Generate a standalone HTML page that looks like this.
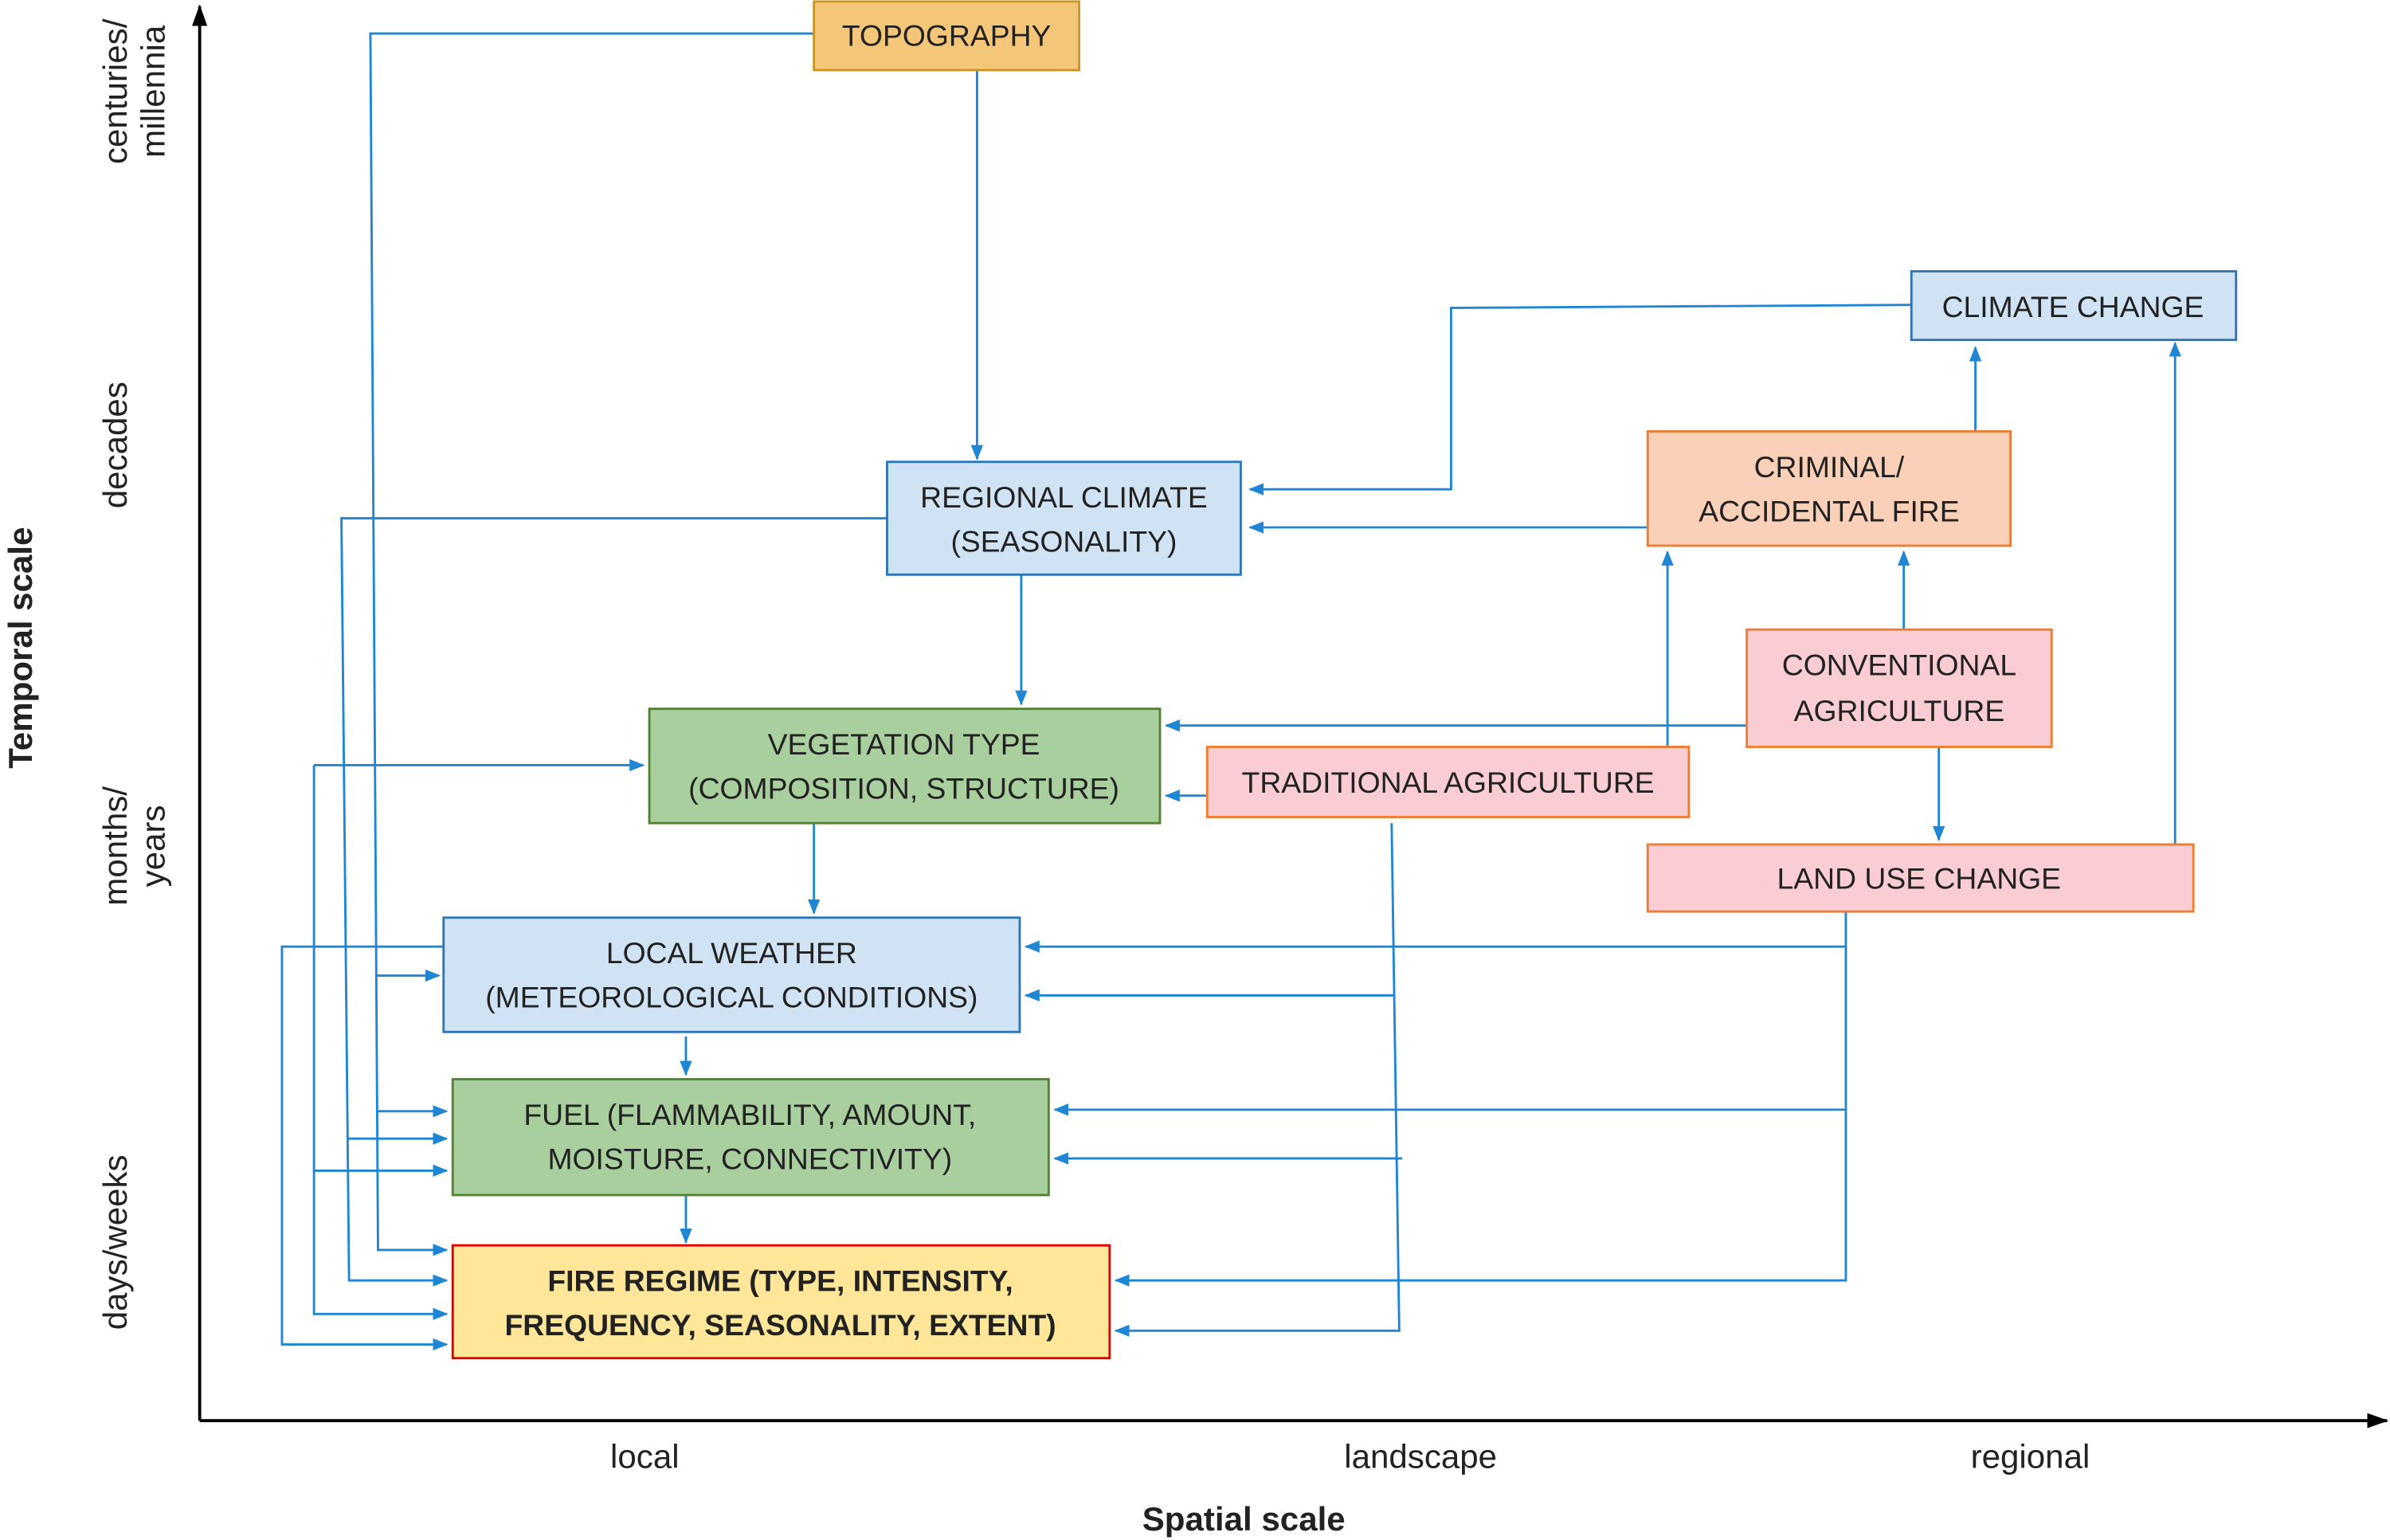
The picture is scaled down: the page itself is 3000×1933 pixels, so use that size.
<!DOCTYPE html>
<html><head><meta charset="utf-8"><style>
html,body{margin:0;padding:0;background:#fff;}
svg{display:block;}
text{font-family:"Liberation Sans",sans-serif;font-size:19.5px;fill:#222;}
.b{font-weight:bold;}
</style></head><body>
<svg width="3000" height="1933" viewBox="0 0 1568 1010.3" preserveAspectRatio="none" xmlns="http://www.w3.org/2000/svg">
<defs>
<marker id="a" markerWidth="10" markerHeight="10" refX="9" refY="5" orient="auto" markerUnits="userSpaceOnUse"><path d="M0,1 L10,5 L0,9 z" fill="#1f86d4"/></marker>
<marker id="k" markerWidth="14" markerHeight="12" refX="13" refY="6" orient="auto" markerUnits="userSpaceOnUse"><path d="M0,1 L14,6 L0,11 z" fill="#000"/></marker>
</defs>
<!-- axes -->
<line x1="131" y1="932" x2="131" y2="4" stroke="#000" stroke-width="2" marker-end="url(#k)"/>
<line x1="131" y1="932" x2="1566" y2="932" stroke="#000" stroke-width="2" marker-end="url(#k)"/>
<g fill="none" stroke="#1f86d4" stroke-width="1.5">
<!-- topography -->
<polyline points="534,22 243,22 248,820 293,820" marker-end="url(#a)"/>
<line x1="247" y1="640" x2="288" y2="640" marker-end="url(#a)"/>
<line x1="248" y1="729" x2="293" y2="729" marker-end="url(#a)"/>
<line x1="641" y1="46" x2="641" y2="301" marker-end="url(#a)"/>
<!-- climate change -->
<polyline points="1254,200 952,202 952,321 820,321" marker-end="url(#a)"/>
<line x1="1081" y1="346" x2="820" y2="346" marker-end="url(#a)"/>
<line x1="1296" y1="283" x2="1296" y2="228" marker-end="url(#a)"/>
<line x1="1427" y1="554" x2="1427" y2="225" marker-end="url(#a)"/>
<line x1="1249" y1="413" x2="1249" y2="362" marker-end="url(#a)"/>
<line x1="1146" y1="476" x2="765" y2="476" marker-end="url(#a)"/>
<line x1="1272" y1="490" x2="1272" y2="551" marker-end="url(#a)"/>
<line x1="1094" y1="490" x2="1094" y2="362" marker-end="url(#a)"/>
<line x1="792" y1="522" x2="765" y2="522" marker-end="url(#a)"/>
<!-- traditional down -->
<polyline points="913,540 918,873 732,873" marker-end="url(#a)"/>
<line x1="915" y1="653" x2="673" y2="653" marker-end="url(#a)"/>
<line x1="920" y1="760" x2="692" y2="760" marker-end="url(#a)"/>
<!-- land use down -->
<polyline points="1211,598 1211,840 732,840" marker-end="url(#a)"/>
<line x1="1211" y1="621" x2="673" y2="621" marker-end="url(#a)"/>
<line x1="1211" y1="728" x2="692" y2="728" marker-end="url(#a)"/>
<!-- regional climate -->
<polyline points="582,340 224,340 229,840 293,840" marker-end="url(#a)"/>
<line x1="228" y1="747" x2="293" y2="747" marker-end="url(#a)"/>
<line x1="670" y1="377" x2="670" y2="462" marker-end="url(#a)"/>
<!-- vegetation -->
<line x1="534" y1="540" x2="534" y2="599" marker-end="url(#a)"/>
<line x1="206" y1="502" x2="422" y2="502" marker-end="url(#a)"/>
<polyline points="206,502 206,862 293,862" marker-end="url(#a)"/>
<line x1="206" y1="768" x2="293" y2="768" marker-end="url(#a)"/>
<!-- local weather -->
<polyline points="291,621 185,621 185,882 293,882" marker-end="url(#a)"/>
<line x1="450" y1="680" x2="450" y2="705" marker-end="url(#a)"/>
<line x1="450" y1="784" x2="450" y2="815" marker-end="url(#a)"/>
</g>
<!-- boxes -->
<g stroke-width="1.5">
<rect x="534" y="1" width="174" height="45" fill="#f4c67a" stroke="#c8961e"/>
<rect x="1254" y="178" width="213" height="45" fill="#d0e3f4" stroke="#2e75b6"/>
<rect x="582" y="303" width="232" height="74" fill="#d0e3f4" stroke="#2e75b6"/>
<rect x="1081" y="283" width="238" height="75" fill="#fbd0b8" stroke="#ed7d31"/>
<rect x="1146" y="413" width="200" height="77" fill="#f9cdd3" stroke="#ed7d31"/>
<rect x="426" y="465" width="335" height="75" fill="#a9cf9f" stroke="#548235"/>
<rect x="792" y="490" width="316" height="46" fill="#f9cdd3" stroke="#ed7d31"/>
<rect x="1081" y="554" width="358" height="44" fill="#f9cdd3" stroke="#ed7d31"/>
<rect x="291" y="602" width="378" height="75" fill="#d0e3f4" stroke="#2e75b6"/>
<rect x="297" y="708" width="391" height="76" fill="#a9cf9f" stroke="#548235"/>
<rect x="297" y="817" width="431" height="74" fill="#ffe699" stroke="#e00000"/>
</g>
<g text-anchor="middle">
<text x="621" y="30">TOPOGRAPHY</text>
<text x="1360" y="208">CLIMATE CHANGE</text>
<text x="698" y="333">REGIONAL CLIMATE</text>
<text x="698" y="362">(SEASONALITY)</text>
<text x="1200" y="313">CRIMINAL/</text>
<text x="1200" y="342">ACCIDENTAL FIRE</text>
<text x="1246" y="443">CONVENTIONAL</text>
<text x="1246" y="473">AGRICULTURE</text>
<text x="593" y="495">VEGETATION TYPE</text>
<text x="593" y="524">(COMPOSITION, STRUCTURE)</text>
<text x="950" y="520">TRADITIONAL AGRICULTURE</text>
<text x="1259" y="583">LAND USE CHANGE</text>
<text x="480" y="632">LOCAL WEATHER</text>
<text x="480" y="661">(METEOROLOGICAL CONDITIONS)</text>
<text x="492" y="738">FUEL (FLAMMABILITY, AMOUNT,</text>
<text x="492" y="767">MOISTURE, CONNECTIVITY)</text>
<text x="512" y="847" class="b">FIRE REGIME (TYPE, INTENSITY,</text>
<text x="512" y="876" class="b">FREQUENCY, SEASONALITY, EXTENT)</text>
<text x="423" y="963" style="font-size:22px">local</text>
<text x="932" y="963" style="font-size:22px">landscape</text>
<text x="1332" y="963" style="font-size:22px">regional</text>
<text x="816" y="1004" class="b" style="font-size:22px">Spatial scale</text>
<text transform="translate(21,425) rotate(-90)" class="b" style="font-size:22px">Temporal scale</text>
<text transform="translate(83,60) rotate(-90)" style="font-size:22px">centuries/</text>
<text transform="translate(108,60) rotate(-90)" style="font-size:22px">millennia</text>
<text transform="translate(83,292) rotate(-90)" style="font-size:22px">decades</text>
<text transform="translate(83,555) rotate(-90)" style="font-size:22px">months/</text>
<text transform="translate(108,555) rotate(-90)" style="font-size:22px">years</text>
<text transform="translate(83,815) rotate(-90)" style="font-size:22px">days/weeks</text>
</g>
</svg>
</body></html>
